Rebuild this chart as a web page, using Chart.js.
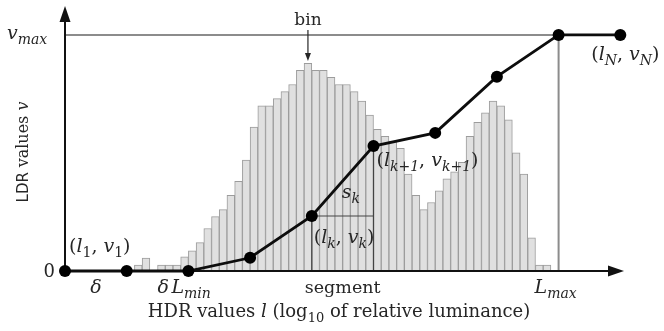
<!DOCTYPE html>
<html>
<head>
<meta charset="utf-8">
<script src="https://cdn.jsdelivr.net/npm/chart.js@4"></script>
<style>
  html, body { margin: 0; padding: 0; background: #fff; }
  #wrap { width: 664px; height: 331px; }
</style>
</head>
<body>
<div id="wrap"><canvas id="grafico" width="664" height="331"></canvas></div>
<script>
// nodos de la curva de tono (l en unidades de log10, v normalizado 0..1)
const nodeL = [0, 1, 2, 3, 4, 5, 6, 7, 8, 9];
const nodeV = [0, 0, 0, 0.056, 0.233, 0.529, 0.585, 0.823, 1, 1];

// histograma: 8 bins por unidad, primer bin empieza en l = 9/8
const binWidth = 0.125;
const firstBin = 9;
const binHeights = [
  0.025, 0.055, 0, 0.025, 0.025, 0.025, 0.06, 0.085, 0.12, 0.18,
  0.23, 0.26, 0.32, 0.38, 0.47, 0.61, 0.70, 0.70, 0.73, 0.76,
  0.79, 0.85, 0.88, 0.85, 0.85, 0.82, 0.79, 0.79, 0.76, 0.72,
  0.66, 0.60, 0.57, 0.55, 0.52, 0.41, 0.32, 0.26, 0.29, 0.34,
  0.39, 0.42, 0.46, 0.57, 0.63, 0.67, 0.72, 0.70, 0.64, 0.50,
  0.41, 0.14, 0.025, 0.025
];

const vMax = 1;
const lMaxIdx = 8;   // nodo en L_max
const kIdx = 4;      // nodo (l_k, v_k)

const bins = binHeights.map((h, i) => ({ x: (firstBin + i + 0.5) * binWidth, y: h }));
const nodes = nodeL.map((l, i) => ({ x: l, y: nodeV[i] }));

const SERIF = '"DejaVu Serif", "Liberation Serif", serif';
const INK = '#262626';

// texto con subíndices: partes [texto, estilo] con estilo r | i | sr | si
function rich(ctx, x, y, parts, size, align) {
  const fontFor = s => {
    const sub = s === 'sr' || s === 'si';
    const ital = s === 'i' || s === 'si';
    return (ital ? 'italic ' : '') + (sub ? Math.round(size * 0.74) : size) + 'px ' + SERIF;
  };
  let w = 0;
  parts.forEach(p => { ctx.font = fontFor(p[1]); w += ctx.measureText(p[0]).width; });
  let cx = align === 'center' ? x - w / 2 : (align === 'right' ? x - w : x);
  ctx.textAlign = 'left';
  ctx.textBaseline = 'alphabetic';
  parts.forEach(p => {
    ctx.font = fontFor(p[1]);
    const dy = (p[1] === 'sr' || p[1] === 'si') ? size * 0.25 : 0;
    ctx.fillText(p[0], cx, y + dy);
    cx += ctx.measureText(p[0]).width;
  });
}

const guias = {
  id: 'guias',
  afterDatasetDraw(chart, args) {
    if (args.meta.type !== 'bar') return;
    const { ctx, chartArea: a } = chart;
    const sx = chart.scales.x, sy = chart.scales.y;
    const y0 = sy.getPixelForValue(0);
    const yMax = sy.getPixelForValue(vMax);
    const xLmax = sx.getPixelForValue(nodeL[lMaxIdx]);
    ctx.save();
    // v_max y L_max
    ctx.strokeStyle = '#8c8c8c';
    ctx.lineWidth = 2;
    ctx.beginPath();
    ctx.moveTo(a.left, yMax); ctx.lineTo(xLmax, yMax);
    ctx.moveTo(xLmax, yMax); ctx.lineTo(xLmax, y0);
    ctx.stroke();
    // segmento k
    const xk = sx.getPixelForValue(nodeL[kIdx]), yk = sy.getPixelForValue(nodeV[kIdx]);
    const xk1 = sx.getPixelForValue(nodeL[kIdx + 1]), yk1 = sy.getPixelForValue(nodeV[kIdx + 1]);
    ctx.strokeStyle = '#444';
    ctx.lineWidth = 1.2;
    ctx.beginPath();
    ctx.moveTo(xk, yk); ctx.lineTo(xk, y0);
    ctx.moveTo(xk, yk); ctx.lineTo(xk1, yk);
    ctx.moveTo(xk1, yk1); ctx.lineTo(xk1, y0);
    ctx.stroke();
    // ejes con flechas
    ctx.strokeStyle = '#111';
    ctx.fillStyle = '#111';
    ctx.lineWidth = 2;
    ctx.beginPath();
    ctx.moveTo(a.left, y0); ctx.lineTo(a.right - 10, y0);
    ctx.moveTo(a.left, y0); ctx.lineTo(a.left, a.top + 10);
    ctx.stroke();
    ctx.beginPath();
    ctx.moveTo(a.right, y0); ctx.lineTo(a.right - 16, y0 - 5.5); ctx.lineTo(a.right - 16, y0 + 5.5);
    ctx.closePath(); ctx.fill();
    ctx.beginPath();
    ctx.moveTo(a.left, a.top); ctx.lineTo(a.left - 5.5, a.top + 16); ctx.lineTo(a.left + 5.5, a.top + 16);
    ctx.closePath(); ctx.fill();
    ctx.restore();
  },
  afterDraw(chart) {
    const { ctx } = chart;
    const sx = chart.scales.x, sy = chart.scales.y;
    const px = l => sx.getPixelForValue(l);
    const py = v => sy.getPixelForValue(v);
    ctx.save();
    ctx.fillStyle = INK;
    ctx.strokeStyle = INK;

    // etiquetas del eje y
    rich(ctx, 7, py(vMax) + 4, [['v', 'i'], ['max', 'si']], 19, 'left');
    rich(ctx, 55, py(0) + 6, [['0', 'r']], 18, 'right');
    ctx.save();
    ctx.translate(28, 152);
    ctx.rotate(-Math.PI / 2);
    ctx.font = '15px "DejaVu Sans", sans-serif';
    let w1 = ctx.measureText('LDR ').width;
    ctx.font = '16px ' + SERIF;
    let w2 = ctx.measureText('values ').width;
    ctx.font = 'italic 16px ' + SERIF;
    let w3 = ctx.measureText('v').width;
    let x0 = -(w1 + w2 + w3) / 2;
    ctx.textBaseline = 'alphabetic';
    ctx.textAlign = 'left';
    ctx.font = '15px "DejaVu Sans", sans-serif';
    ctx.fillText('LDR ', x0, 0);
    ctx.font = '16px ' + SERIF;
    ctx.fillText('values ', x0 + w1, 0);
    ctx.font = 'italic 16px ' + SERIF;
    ctx.fillText('v', x0 + w1 + w2, 0);
    ctx.restore();

    // bin con flecha
    const xb = px((firstBin + 22 + 0.5) * binWidth);
    rich(ctx, xb, 25, [['bin', 'r']], 17, 'center');
    ctx.lineWidth = 1.2;
    ctx.beginPath(); ctx.moveTo(xb, 30); ctx.lineTo(xb, 56); ctx.stroke();
    ctx.beginPath(); ctx.moveTo(xb, 61); ctx.lineTo(xb - 3, 53); ctx.lineTo(xb + 3, 53); ctx.closePath(); ctx.fill();

    // nodos
    rich(ctx, px(0) + 4, py(0) - 19, [['(', 'r'], ['l', 'i'], ['1', 'sr'], [', ', 'r'], ['v', 'i'], ['1', 'sr'], [')', 'r']], 19, 'left');
    rich(ctx, px(nodeL[kIdx]) + 2, py(nodeV[kIdx]) + 27, [['(', 'r'], ['l', 'i'], ['k', 'si'], [', ', 'r'], ['v', 'i'], ['k', 'si'], [')', 'r']], 19, 'left');
    rich(ctx, px(nodeL[kIdx + 1]) + 3, py(nodeV[kIdx + 1]) + 20, [['(', 'r'], ['l', 'i'], ['k+1', 'si'], [', ', 'r'], ['v', 'i'], ['k+1', 'si'], [')', 'r']], 19, 'left');
    rich(ctx, px(nodeL[9]) - 29, py(nodeV[9]) + 25, [['(', 'r'], ['l', 'i'], ['N', 'si'], [', ', 'r'], ['v', 'i'], ['N', 'si'], [')', 'r']], 19, 'left');
    rich(ctx, px(nodeL[kIdx]) + 30, py(nodeV[kIdx]) - 18, [['s', 'i'], ['k', 'si']], 19, 'left');

    // etiquetas bajo el eje x
    const yb = py(0) + 22;
    rich(ctx, (px(0) + px(1)) / 2, yb, [['δ', 'i']], 19, 'center');
    rich(ctx, px(2) - 31, yb, [['δ', 'i']], 19, 'left');
    rich(ctx, px(2) - 17, yb, [['L', 'i'], ['min', 'si']], 19, 'left');
    rich(ctx, (px(nodeL[kIdx]) + px(nodeL[kIdx + 1])) / 2, yb, [['segment', 'r']], 17.5, 'center');
    rich(ctx, px(nodeL[lMaxIdx]) - 24, yb, [['L', 'i'], ['max', 'si']], 19, 'left');
    rich(ctx, 339, py(0) + 46, [['HDR values ', 'r'], ['l', 'i'], [' (log', 'r'], ['10', 'sr'], [' of relative luminance)', 'r']], 18, 'center');
    ctx.restore();
  }
};

const ctx = document.getElementById('grafico').getContext('2d');
new Chart(ctx, {
  type: 'bar',
  data: {
    datasets: [
      {
        type: 'line',
        data: nodes,
        order: 1,
        borderColor: '#0d0d0d',
        borderWidth: 2.8,
        pointRadius: 6,
        pointBackgroundColor: '#000',
        pointBorderColor: '#000',
        pointBorderWidth: 0,
        tension: 0,
        clip: false
      },
      {
        type: 'bar',
        data: bins,
        order: 2,
        backgroundColor: '#e0e0e0',
        borderColor: '#9c9c9c',
        borderWidth: 1,
        barPercentage: 1,
        categoryPercentage: 1,
        clip: false
      }
    ]
  },
  options: {
    responsive: false,
    animation: false,
    events: [],
    layout: { padding: { left: 65, right: 40, top: 5, bottom: 60 } },
    plugins: { legend: { display: false }, tooltip: { enabled: false } },
    scales: {
      x: { type: 'linear', min: 0, max: 9.06, offset: false, display: false, ticks: { stepSize: 1 } },
      y: { type: 'linear', min: 0, max: 1.1224, display: false }
    }
  },
  plugins: [guias]
});
</script>
</body>
</html>
